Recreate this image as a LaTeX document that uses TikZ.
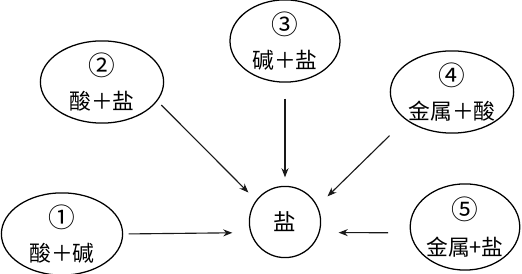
\documentclass[tikz,border=0pt]{standalone}
\usepackage{fontspec}
\newfontfamily\cjk{Noto Sans CJK SC}
\usetikzlibrary{arrows.meta,shapes.geometric}

\newcommand{\numcirc}[1]{{\fontsize{19}{19}\selectfont #1}}

\begin{document}
\begin{tikzpicture}[
  x=0.025cm, y=-0.025cm,
  % === Node styles ===
  reactant/.style={
    draw, ellipse, line width=0.9pt,
    inner sep=0pt, align=center,
    font=\cjk\fontsize{15.5}{24}\selectfont
  },
  product/.style={
    draw, circle, line width=0.9pt,
    minimum size=1.78cm, inner sep=0pt,
    font=\cjk\fontsize{16}{18}\selectfont
  },
  % === Arrow styles ===
  arr/.style={-{Stealth[length=6.5pt,width=5pt]}, line width=0.8pt, black!90},
]
\useasboundingbox (0,0) rectangle (522,274);

% =============================================
% Product: salt (centre)
% =============================================
\node[product] (salt) at (285,222) {盐};

% =============================================
% Reactant pairs
% =============================================
\node[reactant, minimum width=3.03cm, minimum height=1.75cm] (acidbase) at (62,234) {\numcirc{①}\\酸＋碱};
\node[reactant, minimum width=3.08cm, minimum height=2cm] (acidsalt) at (102,82) {\numcirc{②}\\酸＋盐};
\node[reactant, minimum width=2.75cm, minimum height=2.05cm] (basesalt) at (285,41) {\numcirc{③}\\碱＋盐};
\node[reactant, minimum width=2.93cm, minimum height=1.93cm] (metalacid) at (452,92) {\numcirc{④}\\金属＋酸};
\node[reactant, minimum width=2.5cm, minimum height=2.08cm,
      font=\cjk\fontsize{15.5}{26}\selectfont] (metalsalt) at (465,227) {\numcirc{⑤}\\金属+盐};

% =============================================
% Arrows: reactants -> salt
% =============================================
\draw[arr, shorten <=3.9pt, shorten >=12.8pt] (acidbase.east) -- (salt.197);
\draw[arr, shorten <=4pt, shorten >=7.7pt] (acidsalt.-19) -- (salt.143);
\draw[arr, shorten <=11.3pt, shorten >=6pt] (basesalt.south) -- (salt.north);
\draw[arr, shorten <=16pt, shorten >=9.9pt] (metalacid.211) -- (salt.26);
\draw[arr, shorten <=15.6pt, shorten >=13.5pt] (metalsalt.186) -- (salt.-17);

\end{tikzpicture}
\end{document}
